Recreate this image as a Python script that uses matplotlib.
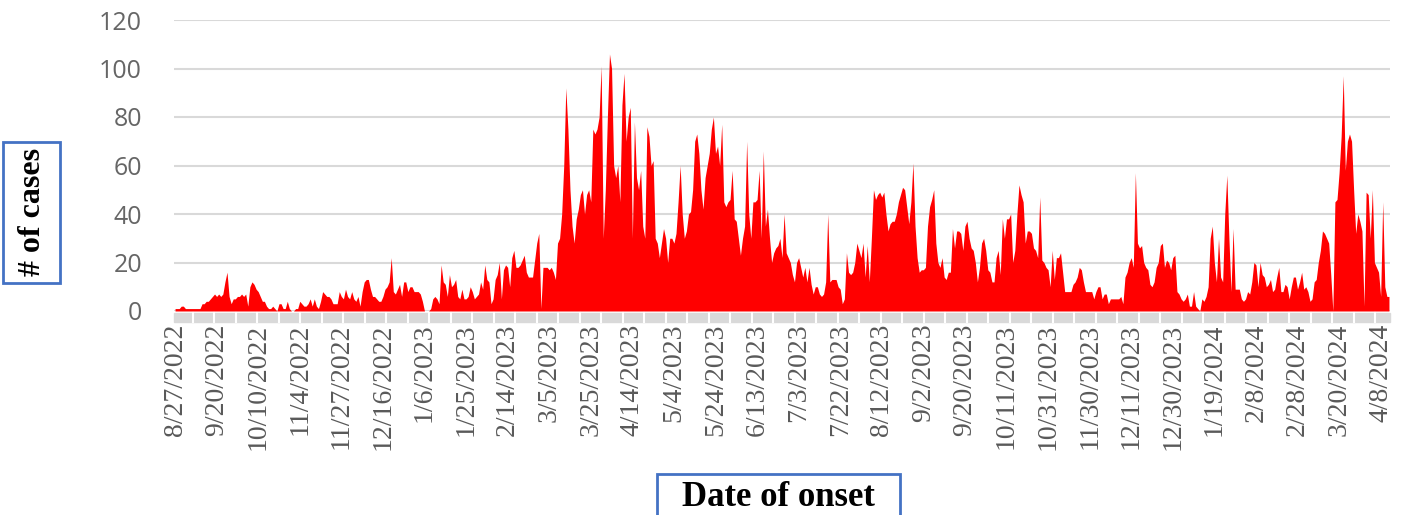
import matplotlib
matplotlib.use("Agg")
import matplotlib.pyplot as plt
from matplotlib.patches import Rectangle
from matplotlib.transforms import blended_transform_factory
import numpy as np

# daily case counts, one value per category on the date axis
cases = [
    1, 1, 1, 2, 2, 1, 1, 1, 1, 1, 1, 1, 1, 3, 3, 4, 4, 5, 6, 7,
    6, 7, 6, 7, 12, 16, 6, 3, 5, 5, 6, 6, 7, 6, 7, 2, 10, 12, 11, 9,
    8, 6, 4, 4, 2, 1, 1, 2, 1, 0, 3, 3, 1, 1, 4, 1, 0, 0, 1, 1,
    4, 3, 2, 2, 3, 5, 2, 5, 2, 1, 4, 8, 7, 6, 6, 5, 3, 3, 3, 8,
    6, 5, 9, 6, 5, 8, 5, 4, 6, 2, 8, 12, 13, 13, 9, 6, 6, 5, 4, 4,
    6, 9, 10, 12, 22, 8, 7, 9, 11, 6, 12, 12, 8, 10, 10, 8, 8, 8, 7, 4,
    0, 0, 0, 1, 5, 6, 5, 3, 19, 12, 11, 6, 15, 10, 11, 13, 6, 5, 9, 5,
    5, 6, 10, 8, 5, 6, 7, 12, 9, 19, 13, 12, 3, 5, 13, 15, 20, 5, 17, 19,
    18, 10, 22, 25, 18, 18, 19, 21, 23, 16, 14, 14, 14, 21, 28, 32, 1, 18, 18, 18,
    17, 18, 16, 13, 28, 30, 40, 60, 92, 75, 50, 35, 28, 38, 42, 48, 50, 40, 48, 50,
    45, 75, 73, 75, 80, 101, 30, 50, 80, 106, 100, 60, 55, 60, 45, 85, 98, 70, 80, 84,
    30, 78, 55, 50, 58, 35, 30, 76, 72, 60, 62, 30, 28, 22, 28, 34, 30, 20, 30, 30,
    28, 32, 45, 60, 40, 30, 33, 40, 41, 50, 70, 73, 65, 50, 42, 55, 60, 65, 75, 80,
    65, 68, 60, 77, 45, 43, 45, 46, 58, 38, 37, 30, 23, 30, 35, 70, 40, 30, 45, 45,
    46, 58, 30, 66, 35, 42, 30, 20, 24, 26, 27, 30, 22, 40, 24, 22, 20, 15, 12, 20,
    22, 18, 14, 18, 12, 18, 11, 7, 10, 10, 7, 6, 7, 12, 40, 12, 13, 13, 13, 10,
    9, 3, 5, 24, 16, 15, 16, 20, 28, 25, 22, 28, 14, 27, 12, 30, 50, 46, 48, 49,
    47, 49, 40, 33, 36, 37, 37, 40, 45, 48, 51, 50, 43, 36, 45, 61, 35, 22, 16, 17,
    17, 18, 35, 43, 46, 50, 28, 20, 18, 22, 14, 13, 16, 16, 34, 26, 33, 33, 32, 25,
    35, 37, 30, 26, 25, 20, 12, 18, 28, 30, 25, 17, 16, 12, 12, 22, 25, 15, 38, 30,
    38, 38, 40, 20, 25, 40, 52, 48, 45, 28, 33, 33, 32, 26, 25, 22, 47, 21, 20, 18,
    17, 10, 25, 13, 22, 22, 24, 16, 8, 8, 8, 8, 11, 12, 14, 18, 17, 12, 8, 8,
    8, 8, 5, 8, 10, 10, 5, 7, 7, 3, 5, 5, 5, 5, 5, 6, 3, 14, 16, 20,
    22, 18, 57, 28, 26, 27, 20, 18, 17, 11, 10, 12, 18, 20, 27, 28, 18, 21, 20, 17,
    22, 23, 8, 7, 5, 4, 5, 7, 2, 2, 8, 2, 1, 0, 5, 4, 6, 10, 30, 35,
    20, 12, 30, 14, 12, 40, 56, 30, 8, 34, 9, 9, 9, 5, 4, 5, 8, 7, 12, 20,
    19, 10, 20, 15, 14, 10, 11, 13, 8, 9, 14, 18, 8, 8, 11, 10, 5, 10, 14, 14,
    9, 12, 16, 9, 10, 8, 4, 5, 12, 13, 20, 25, 33, 32, 30, 28, 15, 0, 45, 46,
    57, 72, 97, 58, 70, 73, 70, 50, 32, 40, 37, 33, 2, 49, 48, 30, 50, 20, 18, 16,
    6, 45, 10, 6, 6,
]

# a label every 20 categories
tick_labels = [
    "8/27/2022", "9/20/2022", "10/10/2022", "11/4/2022", "11/27/2022",
    "12/16/2022", "1/6/2023", "1/25/2023", "2/14/2023", "3/5/2023",
    "3/25/2023", "4/14/2023", "5/4/2023", "5/24/2023", "6/13/2023",
    "7/3/2023", "7/22/2023", "8/12/2023", "9/2/2023", "9/20/2023",
    "10/11/2023", "10/31/2023", "11/30/2023", "12/11/2023", "12/30/2023",
    "1/19/2024", "2/8/2024", "2/28/2024", "3/20/2024", "4/8/2024",
]
label_every = 20

W, H = 1405, 515
fig = plt.figure(figsize=(W / 100, H / 100), dpi=100)
ax = fig.add_axes([174 / W, 204 / H, (1390 - 174) / W, 291 / H])

x = np.arange(len(cases))
ax.fill_between(x, cases, 0, color="#FF0000", linewidth=0)

ax.set_xlim(-0.5, len(cases) - 0.5)
ax.set_ylim(0, 120)
ax.set_yticks(range(0, 121, 20))
ax.grid(axis="y", color="#D9D9D9", linewidth=1.5)
ax.set_axisbelow(True)
for s in ax.spines.values():
    s.set_visible(False)

ax.set_xticks(np.arange(0, len(cases), label_every)[:len(tick_labels)])
ax.set_xticklabels(tick_labels, rotation=90, fontfamily="Liberation Serif",
                   fontsize=20, color="#595959")
ax.tick_params(axis="x", length=0, pad=9)
ax.tick_params(axis="y", length=0, pad=23, labelsize=18, labelcolor="#666666")
for t in ax.get_yticklabels():
    t.set_fontfamily("Open Sans")

# grey band under the axis with white tick gaps
trans = blended_transform_factory(ax.transData, ax.transAxes)
ax.add_patch(Rectangle((-0.5, -11 / 291), len(cases), 9 / 291, transform=trans,
                       color="#D9D9D9", clip_on=False, zorder=1))
for gx in np.arange(8.5 - 10.345, len(cases), 10.345):
    if gx > 0:
        ax.plot([gx, gx], [-11 / 291, -2 / 291], transform=trans, color="white",
                lw=1.5, clip_on=False, zorder=2)

# boxed axis titles
fig.patches.append(Rectangle((3 / W, 1 - 283 / H), 57 / W, 141 / H,
                             transform=fig.transFigure, fc="white",
                             ec="#4472C4", lw=2))
fig.text(32 / W, 1 - 212 / H, "# of cases", rotation=90, ha="center", va="center",
         fontfamily="Liberation Serif", fontweight="bold", fontsize=23)
fig.patches.append(Rectangle((657 / W, 1 - 520 / H), 243 / W, 46 / H,
                             transform=fig.transFigure, fc="white",
                             ec="#4472C4", lw=2))
fig.text(778 / W, 1 - 497 / H, "Date of onset", ha="center", va="center",
         fontfamily="Liberation Serif", fontweight="bold", fontsize=25)

fig.savefig("out.png", dpi=100)
